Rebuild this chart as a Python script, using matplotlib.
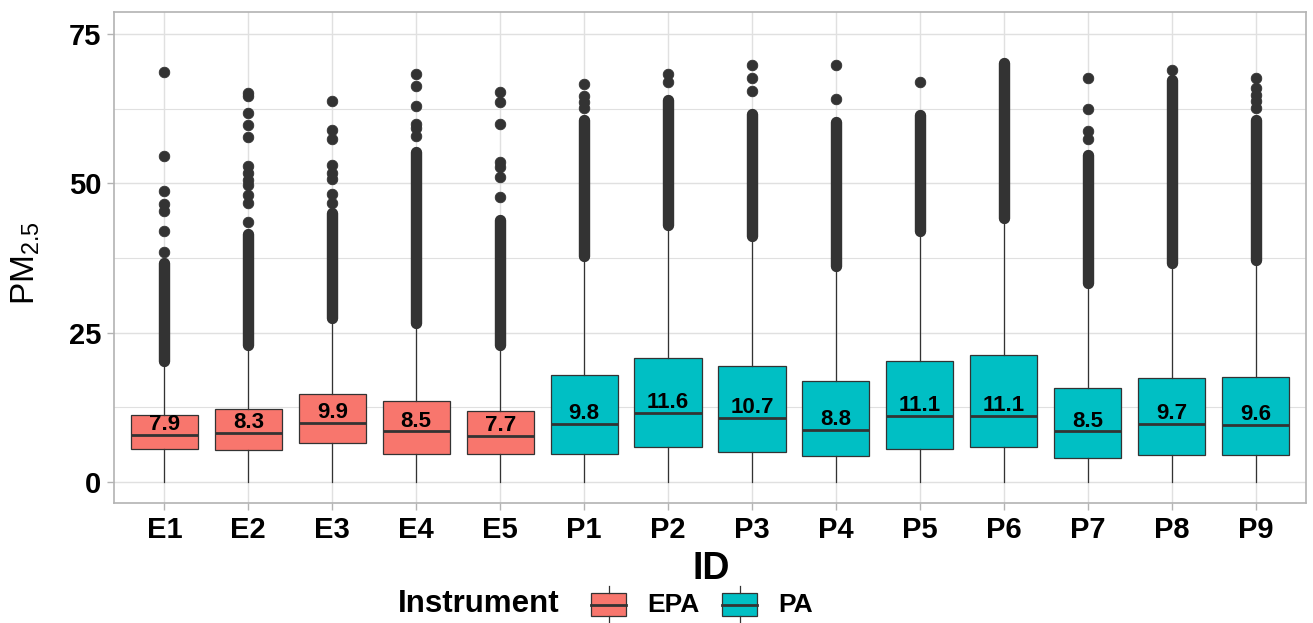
import matplotlib
matplotlib.use("Agg")
import matplotlib.pyplot as plt
from matplotlib.patches import Rectangle

plt.rcParams["font.family"] = ["Liberation Sans", "DejaVu Sans"]
plt.rcParams["mathtext.default"] = "regular"

# ---- data ----
ids = ["E1", "E2", "E3", "E4", "E5", "P1", "P2", "P3", "P4", "P5", "P6", "P7", "P8", "P9"]
instrument = ["EPA"] * 5 + ["PA"] * 9
median = [7.9, 8.3, 9.9, 8.5, 7.7, 9.8, 11.6, 10.7, 8.8, 11.1, 11.1, 8.5, 9.7, 9.6]
q1 = [5.5, 5.3, 6.5, 4.7, 4.7, 4.7, 5.9, 5.0, 4.3, 5.6, 5.8, 4.1, 4.5, 4.6]
q3 = [11.3, 12.3, 14.7, 13.5, 11.9, 18.0, 20.7, 19.5, 17.0, 20.2, 21.2, 15.8, 17.4, 17.6]
whis_lo = [0, 0, 0, 0, 0, 0, 0, 0, 0, 0, 0, 0, 0, 0]
whis_hi = [19.9, 22.8, 27.1, 26.5, 22.7, 37.6, 42.9, 41.0, 35.9, 41.8, 44.0, 33.2, 36.5, 36.9]
# thousands of overlapping outliers form solid runs: lowest / highest value of the run
dense_lo = [20.2, 23.0, 27.5, 26.7, 22.9, 37.8, 43.1, 41.2, 36.1, 42.0, 44.2, 33.4, 36.7, 37.1]
dense_hi = [36.6, 41.6, 45.0, 55.3, 43.9, 60.6, 64.0, 61.7, 60.3, 61.4, 70.1, 54.7, 67.3, 60.6]
# separate outliers above the runs
sparse_out = [
    [38.5, 42.0, 45.4, 46.5, 48.7, 54.6, 68.6],
    [43.6, 46.7, 48.0, 49.7, 50.6, 51.7, 53.0, 57.7, 59.8, 61.8, 64.6, 65.2],
    [46.8, 48.3, 50.8, 51.7, 53.1, 57.4, 58.9, 63.8],
    [57.9, 59.2, 59.9, 63.0, 66.3, 68.3],
    [47.7, 51.0, 52.8, 53.6, 60.0, 63.7, 65.3],
    [62.6, 63.6, 64.6, 66.6],
    [66.9, 68.3],
    [65.5, 67.6, 69.8],
    [64.1, 69.8],
    [66.9],
    [],
    [57.4, 58.8, 62.4, 67.6],
    [69.0],
    [62.6, 63.8, 64.8, 65.9, 67.6],
]
colors = {"EPA": "#F8766D", "PA": "#00BFC4"}

INK = "#333333"
GRID = "#E0E0E0"
BORDER = "#B3B3B3"

W, H = 1313, 623
fig = plt.figure(figsize=(W / 100, H / 100), dpi=100)
ax = fig.add_axes([114 / W, 1 - 503 / H, (1306 - 114) / W, (503 - 12) / H])

pos = list(range(1, len(ids) + 1))
stats = []
for i in range(len(ids)):
    stats.append(dict(med=median[i], q1=q1[i], q3=q3[i],
                      whislo=whis_lo[i], whishi=whis_hi[i], fliers=sparse_out[i]))

bp = ax.bxp(stats, positions=pos, widths=0.8, patch_artist=True, showcaps=False,
            boxprops=dict(edgecolor=INK, linewidth=0.9),
            whiskerprops=dict(color=INK, linewidth=0.9),
            medianprops=dict(color=INK, linewidth=2.0),
            flierprops=dict(marker="o", markerfacecolor=INK, markeredgecolor=INK,
                            markersize=7.6, markeredgewidth=0.6),
            zorder=3)
for patch, inst in zip(bp["boxes"], instrument):
    patch.set_facecolor(colors[inst])

runs = ax.vlines(pos, dense_lo, dense_hi, colors=INK, linewidth=8.2, zorder=3)
runs.set_capstyle("round")

for p, m in zip(pos, median):
    ax.text(p, m + 0.8, f"{m:.1f}", ha="center", va="baseline", fontsize=16,
            fontweight="bold", color="black", zorder=5)

ax.set_xlim(0.4, 14.6)
ax.set_ylim(-3.5, 78.7)
ax.set_xticks(pos)
ax.set_xticklabels(ids)
ax.set_yticks([0, 25, 50, 75])
ax.set_yticks([12.5, 37.5, 62.5], minor=True)
ax.tick_params(which="major", length=5, width=1, color=BORDER, labelcolor="black",
               labelsize=21, pad=4)
ax.tick_params(which="minor", length=0)
for lbl in ax.get_xticklabels() + ax.get_yticklabels():
    lbl.set_fontweight("bold")

ax.set_axisbelow(True)
ax.grid(which="major", color=GRID, linewidth=1.0)
ax.grid(which="minor", axis="y", color=GRID, linewidth=0.8)
for s in ax.spines.values():
    s.set_color(BORDER)
    s.set_linewidth(1.2)

# ---- overlay in pixel coordinates for axis titles and legend ----
ov = fig.add_axes([0, 0, 1, 1], zorder=10)
ov.set_xlim(0, W)
ov.set_ylim(H, 0)
ov.axis("off")
ov.patch.set_alpha(0)

ov.text(711, 579, "ID", ha="center", va="baseline", fontsize=27, fontweight="bold")
ov.text(26, 263, r"PM$_{2.5}$", rotation=90, ha="center", va="center", fontsize=24)

ov.text(398, 612, "Instrument", ha="left", va="baseline", fontsize=22.5, fontweight="bold")
for x0, inst, tx in [(591, "EPA", 647), (722, "PA", 778)]:
    cx = x0 + 17.5
    ov.plot([cx, cx], [586, 593], color=INK, lw=0.9)
    ov.plot([cx, cx], [616, 623], color=INK, lw=0.9)
    ov.add_patch(Rectangle((x0, 593), 35, 23, facecolor=colors[inst], edgecolor=INK, lw=0.9))
    ov.plot([x0, x0 + 35], [604.5, 604.5], color=INK, lw=2.0)
    ov.text(tx, 612, inst, ha="left", va="baseline", fontsize=19, fontweight="bold")

fig.savefig("out.png", dpi=100)
